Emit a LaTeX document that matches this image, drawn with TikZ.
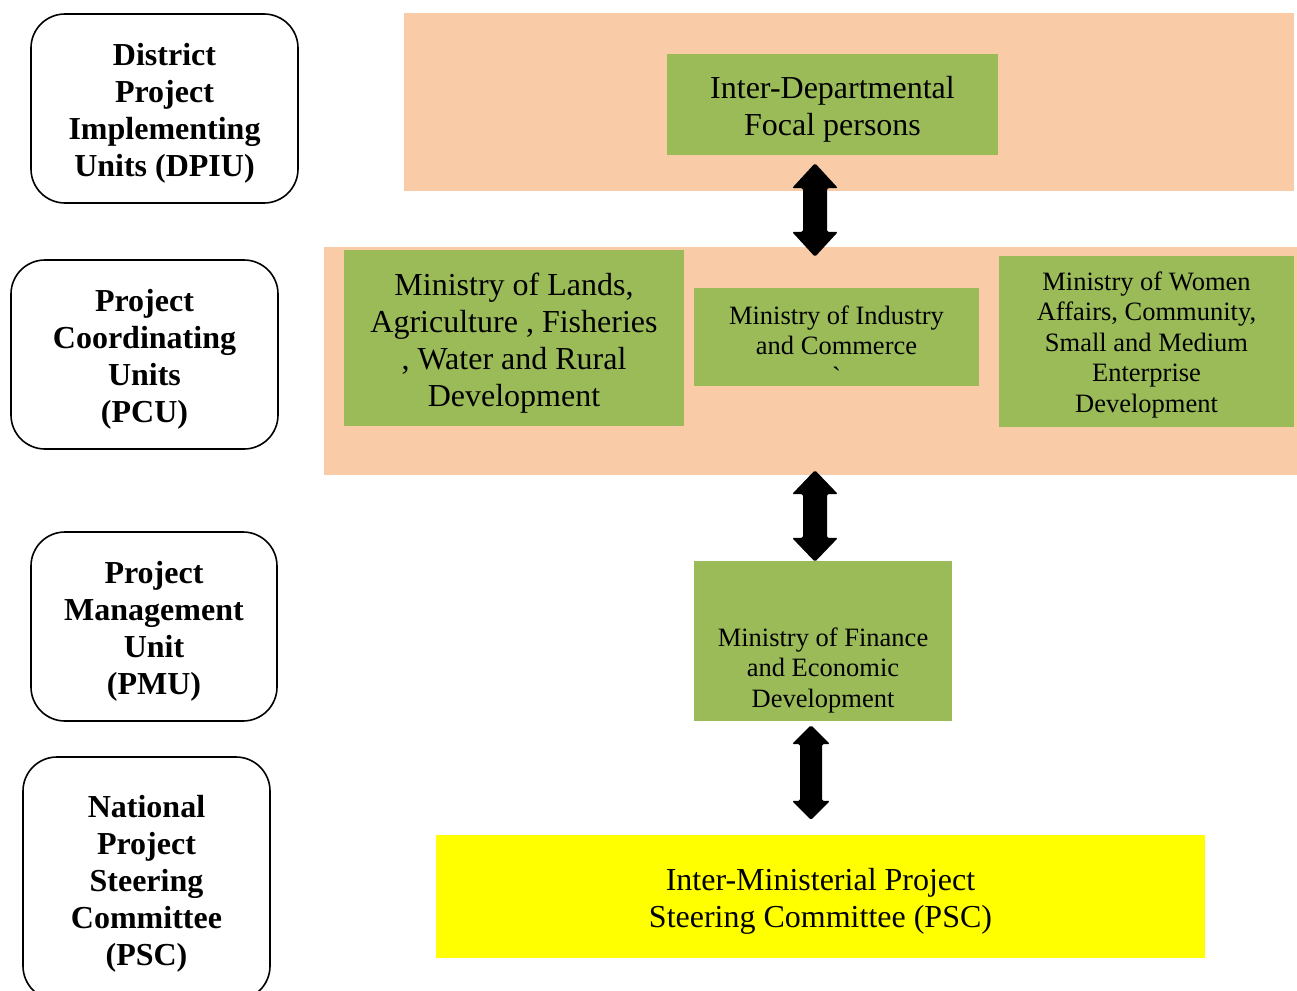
\documentclass[tikz,border=0pt]{standalone}
\usepackage{fontspec}
\setmainfont{Liberation Serif}
\usetikzlibrary{calc}
\definecolor{peach}{HTML}{F9CBA6}
\definecolor{leaf}{HTML}{9BBB59}
\definecolor{yel}{HTML}{FFFF00}
\newcommand\bigtop{\rule{0pt}{32pt}}
\newcommand\smalltop{\rule{0pt}{25pt}}
% top, bottom, head half width, head length, shaft half width
\newcommand\twoway[5]{%
 \fill[dblarrow] (#1) -- ($(#1)+(#3,#4)$) -- ($(#1)+(#5,#4)$) -- ($(#2)+(#5,-#4)$) -- ($(#2)+(#3,-#4)$) -- (#2) -- ($(#2)+(-#3,-#4)$) -- ($(#2)+(-#5,-#4)$) -- ($(#1)+(-#5,#4)$) -- ($(#1)+(-#3,#4)$) -- cycle;}
\begin{document}
\begin{tikzpicture}[x=1pt,y=-1pt,
 level/.style={draw=black, line width=1.6pt, rounded corners=34pt, align=center, font=\fontsize{32}{37}\selectfont\bfseries, inner sep=0pt},
 band/.style={fill=peach, inner sep=0pt},
 gbox/.style={fill=leaf, inner sep=0pt, align=center},
 big/.style={font=\fontsize{32}{37}\selectfont},
 small/.style={font=\fontsize{26.5}{30.5}\selectfont},
 dblarrow/.style={fill=black, rounded corners=1.5pt}]
\useasboundingbox (0,0) rectangle (1297,990);
\begin{scope}
\clip (0,0) rectangle (1297,990);
% level boxes
\node[level, minimum width=267pt, minimum height=189pt] (dpiu) at (164.5,108.5) {\bigtop District\\Project\\Implementing\\Units (DPIU)};
\node[level, minimum width=267pt, minimum height=189pt] (pcu) at (144.5,354.5) {\bigtop Project\\Coordinating\\Units\\(PCU)};
\node[level, minimum width=246pt, minimum height=189pt] (pmu) at (154,626.5) {\bigtop Project\\Management\\Unit\\(PMU)};
\node[level, minimum width=247pt, minimum height=243pt] (npsc) at (146.5,878.5) {\bigtop National\\Project\\Steering\\Committee\\(PSC)};
\end{scope}
% bands
\node[band, minimum width=890pt, minimum height=178pt] (topband) at (849,102) {};
\node[band, minimum width=973pt, minimum height=228pt] (midband) at (810.5,361) {};
% green boxes
\node[gbox, big, minimum width=331pt, minimum height=101pt] (focal) at (832.5,104.5) {\bigtop Inter-Departmental\\Focal persons};
\node[gbox, big, minimum width=340pt, minimum height=176pt] (lands) at (514,338) {\bigtop Ministry of Lands,\\Agriculture , Fisheries\\, Water and Rural\\Development};
\node[gbox, minimum width=285pt, minimum height=98pt] (industry) at (836.5,337) {};
\node[small, align=center, inner sep=0pt] (industrytext) at ($(industry.center)+(0,5)$) {\smalltop Ministry of Industry\\and Commerce\\\textasciigrave};
\node[gbox, small, minimum width=295pt, minimum height=171pt] (women) at (1146.5,341.5) {\smalltop Ministry of Women\\Affairs, Community,\\Small and Medium\\Enterprise\\Development};
\node[gbox, minimum width=258pt, minimum height=160pt] (finance) at (823,641) {};
\node[small, align=center, inner sep=0pt] (financetext) at ($(finance.center)+(0,26)$) {\smalltop Ministry of Finance\\and Economic\\Development};
\node[fill=yel, big, align=center, inner sep=0pt, minimum width=769pt, minimum height=123pt] (psc) at (820.5,896.5) {\bigtop Inter-Ministerial Project\\Steering Committee (PSC)};
% arrows
\coordinate (a1t) at ($(focal.south)+(-17.5,8)$);
\coordinate (a1b) at ($(midband.north)+(4.5,10)$);
\coordinate (a2t) at ($(midband.south)+(4.5,-5)$);
\coordinate (a2b) at ($(finance.north)+(-8,1)$);
\coordinate (a3t) at ($(finance.south)+(-12,4)$);
\coordinate (a3b) at ($(psc.north)+(-9.5,-15)$);
\twoway{a1t}{a1b}{23}{25}{12}
\twoway{a2t}{a2b}{23}{24}{12}
\twoway{a3t}{a3b}{19}{19}{11}
\end{tikzpicture}
\end{document}
